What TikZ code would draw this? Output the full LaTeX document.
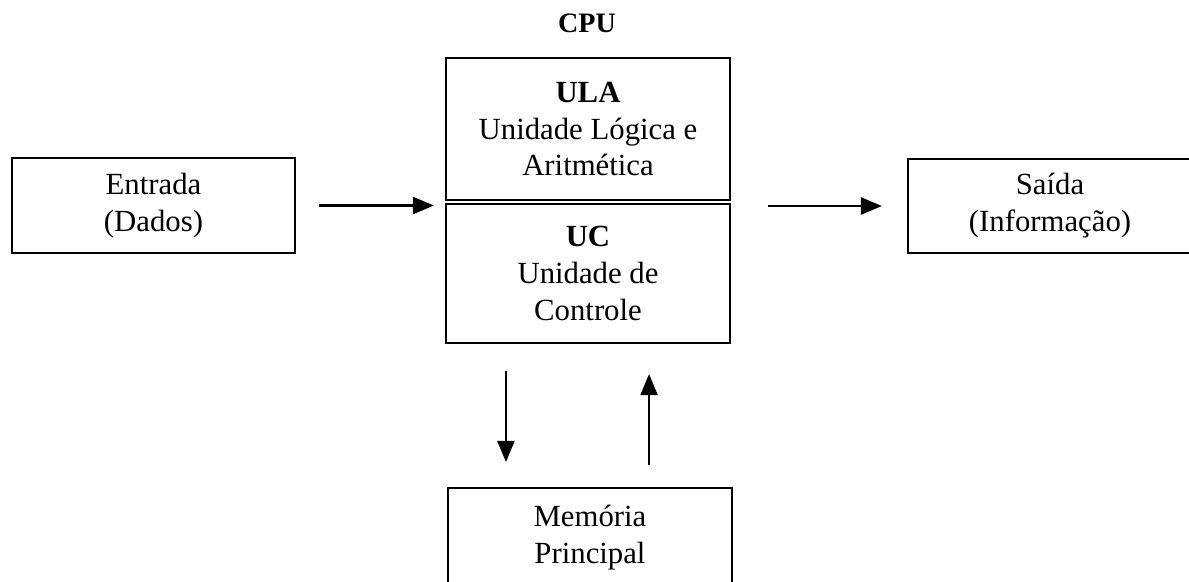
\documentclass[tikz,border=0pt]{standalone}
\usepackage{fontspec}
\setmainfont{Liberation Serif}
\usetikzlibrary{arrows.meta}

\begin{document}
\begin{tikzpicture}
		% Node style
		\tikzset{box style/.style={draw,
								line width=1.2pt,
								rectangle,
								inner sep=0pt,
								align=center,
								font=\fontsize{17.5}{21}\selectfont,
								minimum width=5.68cm},
				conn/.style={line width=1.2pt,
								-{Triangle[length=0.42cm, width=0.34cm]}}}
		
		\useasboundingbox (0, 0) rectangle (23.78, -11.62);
		
		% Draw nodes
		\node[font=\fontsize{16}{19}\selectfont\bfseries] at (11.74, -0.46) (cpu) {CPU};
		\node[box style, minimum height=2.84cm] at (11.76, -2.58) (ula)
			{\textbf{ULA}\\Unidade Lógica e\\Aritmética};
		\node[box style, minimum height=2.78cm] at (11.76, -5.47) (uc)
			{\textbf{UC}\\Unidade de\\Controle};
		\node[box style, minimum width=5.66cm, minimum height=1.9cm] at (3.07, -4.11) (entrada)
			{Entrada\\(Dados)};
		\node[box style, minimum height=1.88cm] at (21.0, -4.12) (saida)
			{Saída\\(Informação)};
		\node[box style, minimum height=2.0cm] at (11.8, -10.76) (memoria)
			{Memória\\Principal};
		
		% Draw connectors
		\draw[conn, shorten <=0.46cm, shorten >=0.22cm]
			(entrada.east) -- (entrada.east -| ula.west);
		\draw[conn, shorten <=0.74cm, shorten >=0.5cm]
			(saida.west -| uc.east) -- (saida.west);
		\draw[conn, shorten <=0.54cm, shorten >=0.5cm]
			([xshift=1.22cm]uc.south west) -- ([xshift=1.22cm]uc.south west |- memoria.north);
		\draw[conn, shorten <=0.44cm, shorten >=0.6cm]
			([xshift=-1.64cm]uc.south east |- memoria.north) -- ([xshift=-1.64cm]uc.south east);
		
	\end{tikzpicture}
\end{document}
